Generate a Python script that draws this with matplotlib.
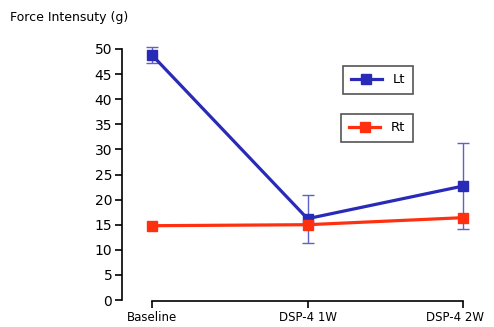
import numpy as np
import matplotlib
matplotlib.use("Agg")
import matplotlib.pyplot as plt
import matplotlib.transforms as mtransforms
from matplotlib.lines import Line2D

groups = ["Baseline", "DSP-4 1W", "DSP-4 2W"]
lt_mean = [48.8, 16.2, 22.7]
lt_err = [1.6, 4.8, 8.5]
rt_mean = [14.8, 15.0, 16.4]
rt_err = [0.0, 0.0, 0.0]
yticks = [0, 5, 10, 15, 20, 25, 30, 35, 40, 45, 50]

blue = "#2a2ab8"
red = "#ff3010"

fig = plt.figure(figsize=(4.94, 3.27), dpi=100)
ax = fig.add_axes([122/494, 27/327, 358/494, 251/327])

x = np.arange(len(groups))
ax.errorbar(x, lt_mean, yerr=lt_err, color=blue, lw=2.3, marker="s", ms=7,
            elinewidth=1, ecolor="#6060c8", capsize=4, capthick=1, clip_on=False, zorder=3)
ax.errorbar(x, rt_mean, yerr=rt_err, color=red, lw=2.3, marker="s", ms=7,
            capsize=0, clip_on=False, zorder=4)

ax.set_xlim(-30/155.5, 2 + 17/155.5)
ax.set_ylim(0, 50)
ax.set_yticks(yticks)
ax.set_xticks(x)
ax.set_xticklabels(groups)
ax.tick_params(axis="x", labelsize=8.5)
ax.tick_params(axis="y", labelsize=10)

ax.spines["top"].set_visible(False)
ax.spines["right"].set_visible(False)
ax.spines["left"].set_bounds(0, 50)
ax.spines["bottom"].set_bounds(0, 2)
ax.spines["bottom"].set_position(("outward", 1))
for s in ["left", "bottom"]:
    ax.spines[s].set_linewidth(1.2)
ax.tick_params(axis="both", length=5, width=1.2, pad=2)

# last label sits right at the edge; nudge it left so it stays inside
last = ax.get_xticklabels()[-1]
last.set_transform(last.get_transform() + mtransforms.ScaledTranslation(-8/100, 0, fig.dpi_scale_trans))

fig.text(10/494, 1 - 18/327, "Force Intensuty (g)", fontsize=9, va="center", ha="left")

h_lt = Line2D([], [], color=blue, lw=2.3, marker="s", ms=7)
h_rt = Line2D([], [], color=red, lw=2.3, marker="s", ms=7)
leg1 = fig.legend([h_lt], ["Lt"], loc="center", bbox_to_anchor=(378/494, 1 - 80/327),
                  fancybox=False, edgecolor="#555555", framealpha=1, fontsize=9.5,
                  handlelength=2.4, borderpad=0.6)
leg2 = fig.legend([h_rt], ["Rt"], loc="center", bbox_to_anchor=(377/494, 1 - 128/327),
                  fancybox=False, edgecolor="#555555", framealpha=1, fontsize=9.5,
                  handlelength=2.4, borderpad=0.6)
for leg in (leg1, leg2):
    leg.get_frame().set_linewidth(1.2)

fig.savefig("out.png", dpi=100)
